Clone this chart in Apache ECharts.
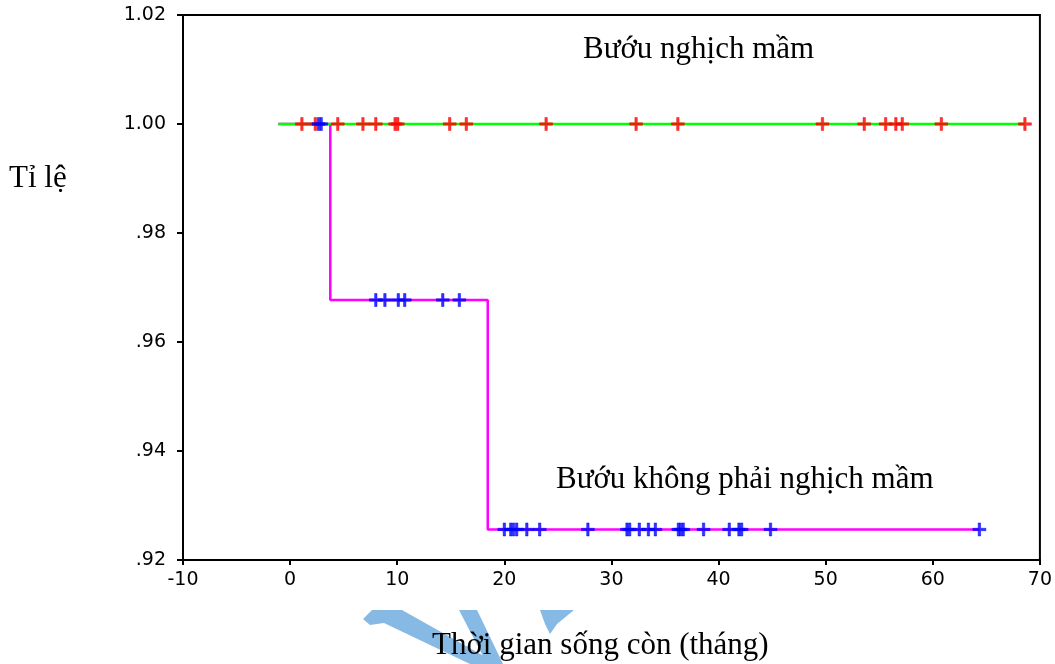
<!DOCTYPE html>
<html>
<head>
<meta charset="utf-8">
<script src="https://cdn.jsdelivr.net/npm/echarts@6/dist/echarts.min.js"></script>
<style>
html,body{margin:0;padding:0;background:#fff;}
#chart{width:1055px;height:664px;}
</style>
</head>
<body>
<div id="chart"></div>
<script>
// ---- data ----
// Group "Bướu nghịch mầm" (germ-cell tumours): survival curve and censored times
const germCurveTimes = [-1.1, 68.6];
const germCurveSurv  = [1.0, 1.0];
const germCensored   = [1.1, 2.35, 4.45, 6.8, 8.0, 9.8, 10.05, 14.9, 16.45, 23.9,
                        32.3, 36.2, 49.7, 53.6, 55.6, 56.55, 57.15, 60.8, 68.6];

// Group "Bướu không phải nghịch mầm": Kaplan–Meier steps and censored times
const nonGermCurveTimes = [-1.1, 3.75, 18.45, 64.35];
const nonGermCurveSurv  = [1.0, 0.9677, 0.9256, 0.9256];
const nonGermCensoredAt100 = [2.65, 2.9];
const nonGermCensoredAt968 = [8.0, 8.85, 10.1, 10.7, 14.25, 15.8];
const nonGermCensoredAt926 = [20.0, 20.6, 20.85, 21.15, 22.1, 23.3, 27.8, 31.45, 31.7,
                              32.6, 33.45, 34.1, 36.25, 36.45, 36.7, 38.6, 41.0, 41.9,
                              42.15, 44.85, 64.35];

const xTickLabels = ['-10', '0', '10', '20', '30', '40', '50', '60', '70'];
const yTickLabels = ['.92', '.94', '.96', '.98', '1.00', '1.02'];

const labelGerm    = 'Bướu nghịch mầm';
const labelNonGerm = 'Bướu không phải nghịch mầm';
const yTitle = 'Tỉ lệ';
const xTitle = 'Thời gian sống còn (tháng)';

// ---- build ----
const zip = (xs, ys) => xs.map((x, i) => [x, ys[i]]);
const atLevel = (xs, y) => xs.map(x => [x, y]);

const plusPath = 'path://M5.3,0H7.7V5.3H13V7.7H7.7V13H5.3V7.7H0V5.3H5.3Z';
const serif = '"Liberation Serif", "Times New Roman", serif';
const sans = '"DejaVu Sans", Arial, sans-serif';

const chart = echarts.init(document.getElementById('chart'), null, {renderer: 'canvas'});

const censorSeries = (data, color) => ({
  type: 'scatter',
  data: data,
  symbol: plusPath,
  symbolSize: 13,
  itemStyle: {color: color, borderColor: color, borderWidth: 0.6},
  silent: true,
  z: 5
});

chart.setOption({
  animation: false,
  backgroundColor: '#ffffff',
  grid: {
    left: 183, right: 11, top: 15, bottom: 104,
    show: true, borderColor: '#000', borderWidth: 2, backgroundColor: 'transparent'
  },
  xAxis: {
    type: 'value', min: -10, max: 70, interval: 10,
    axisLine: {show: true, onZero: false, lineStyle: {color: '#000', width: 2}},
    axisTick: {show: true, length: 5, lineStyle: {color: '#000', width: 2}},
    splitLine: {show: false},
    axisLabel: {
      color: '#000', fontFamily: sans, fontSize: 19, margin: 11,
      formatter: v => xTickLabels[Math.round((v + 10) / 10)] ?? ''
    }
  },
  yAxis: {
    type: 'value', min: 0.92, max: 1.02, interval: 0.02,
    axisLine: {show: true, onZero: false, lineStyle: {color: '#000', width: 2}},
    axisTick: {show: true, length: 6, lineStyle: {color: '#000', width: 2}},
    splitLine: {show: false},
    axisLabel: {
      color: '#000', fontFamily: sans, fontSize: 19, margin: 17,
      formatter: v => yTickLabels[Math.round((v - 0.92) / 0.02)] ?? ''
    }
  },
  series: [
    {
      type: 'line', step: 'end', showSymbol: false, silent: true,
      data: zip(nonGermCurveTimes, nonGermCurveSurv),
      lineStyle: {color: '#ff00ff', width: 2.5}, z: 2
    },
    {
      type: 'line', showSymbol: false, silent: true,
      data: zip(germCurveTimes, germCurveSurv),
      lineStyle: {color: '#00ff00', width: 2.5}, z: 3
    },
    censorSeries(atLevel(germCensored, 1.0), '#ff0000'),
    censorSeries(atLevel(nonGermCensoredAt100, nonGermCurveSurv[0]), '#0000ff'),
    censorSeries(atLevel(nonGermCensoredAt968, nonGermCurveSurv[1]), '#0000ff'),
    censorSeries(atLevel(nonGermCensoredAt926, nonGermCurveSurv[2]), '#0000ff')
  ],
  graphic: [
    // faint watermark fragments behind the axis title
    {type: 'polygon', z: 1, silent: true,
     shape: {points: [[363,619],[372,610],[402,610],[498,664],[470,664],[384,623],[370,625]]},
     style: {fill: '#86b9e3'}},
    {type: 'polygon', z: 1, silent: true,
     shape: {points: [[459,610],[477,610],[503,664],[487,664]]},
     style: {fill: '#86b9e3'}},
    {type: 'polygon', z: 1, silent: true,
     shape: {points: [[540,610],[574,610],[557,624],[550,634],[545,624]]},
     style: {fill: '#86b9e3'}},
    {type: 'text', z: 10, left: 583, top: 34, silent: true,
     style: {text: labelGerm, font: '31px ' + serif, fill: '#000'}},
    {type: 'text', z: 10, left: 556, top: 464, silent: true,
     style: {text: labelNonGerm, font: '31px ' + serif, fill: '#000'}},
    {type: 'text', z: 10, left: 9, top: 163, silent: true,
     style: {text: yTitle, font: '31px ' + serif, fill: '#000'}},
    {type: 'text', z: 10, left: 432, top: 630, silent: true,
     style: {text: xTitle, font: '31px ' + serif, fill: '#000'}}
  ]
});
</script>
</body>
</html>
